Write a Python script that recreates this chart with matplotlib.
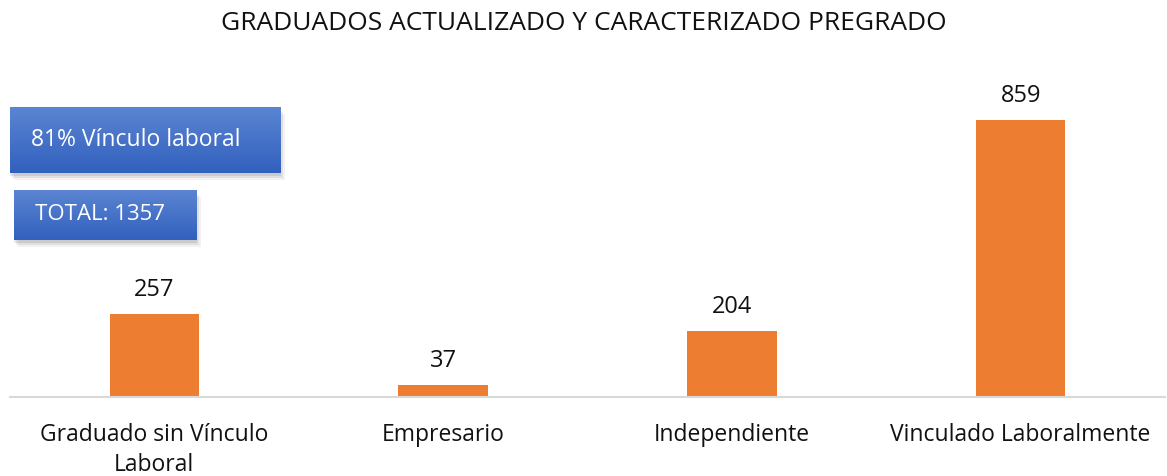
import numpy as np
import matplotlib.pyplot as plt
from matplotlib.patches import Rectangle
from matplotlib.colors import LinearSegmentedColormap

categories = ["Graduado sin Vínculo\nLaboral", "Empresario", "Independiente", "Vinculado Laboralmente"]
values = [257, 37, 204, 859]
title = "GRADUADOS ACTUALIZADO Y CARACTERIZADO PREGRADO"
notes = ["81% Vínculo laboral", "TOTAL: 1357"]

plt.rcParams['font.family'] = ['Open Sans', 'DejaVu Sans']

W, H = 1167, 476
fig = plt.figure(figsize=(W / 100, H / 100), dpi=100)
ax = fig.add_axes([10 / W, (H - 397) / H, 1155 / W, 337 / H])

x = np.arange(len(values))
ax.bar(x, values, width=0.31, color="#ED7D31")
for xi, v in zip(x, values):
    ax.annotate(str(v), (xi, v), xytext=(0, 8.5), textcoords="offset points",
                ha="center", va="bottom", fontsize=17, color="#111111")

ax.set_xlim(-0.5, 3.5)
ax.set_ylim(0, 1045)
ax.set_xticks(x)
ax.set_xticklabels(categories, fontsize=16.5, color="#111111", linespacing=1.3)
ax.tick_params(axis="x", length=0, pad=19)
ax.set_yticks([])
for s in ["top", "right", "left"]:
    ax.spines[s].set_visible(False)
ax.spines["bottom"].set_color("#D9D9D9")
ax.spines["bottom"].set_linewidth(1.5)

fig.text(0.5, 1 - 23 / H, title, ha="center", va="center", fontsize=19, color="#111111")

grad = np.linspace(0, 1, 64).reshape(-1, 1)
cmap = LinearSegmentedColormap.from_list("b", ["#3260BE", "#5B85D2"])


def box(x0, y0, x1, y1, text, tx, size):
    # pixel coords, y measured from top
    l, r = x0 / W, x1 / W
    b, t = 1 - y1 / H, 1 - y0 / H
    for k, a in [(7, 0.05), (5, 0.07), (3, 0.09)]:
        sh = Rectangle((l + (k - 3) / W, b - k / H), r - l, t - b, transform=fig.transFigure,
                       color="#000000", alpha=a, zorder=1, lw=0)
        fig.patches.append(sh)
    bax = fig.add_axes([l, b, r - l, t - b], zorder=2)
    bax.imshow(grad, aspect="auto", cmap=cmap, origin="lower", extent=[0, 1, 0, 1])
    bax.axis("off")
    bax.text(tx, 0.5, text, ha="left", va="center", color="white", fontsize=size)


box(10, 107, 281, 173, notes[0], 0.077, 16.5)
box(14, 190, 197, 240, notes[1], 0.115, 16)

fig.savefig("out.png", dpi=100)
